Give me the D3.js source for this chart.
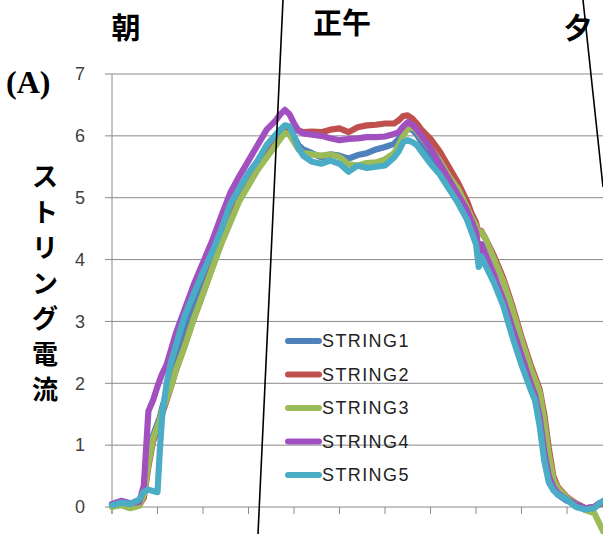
<!DOCTYPE html>
<html>
<head>
<meta charset="utf-8">
<script src="https://cdn.jsdelivr.net/npm/d3@7"></script>
<style>
  body { margin: 0; background: #fff; }
  svg { display: block; }
</style>
</head>
<body>
<div id="chart"></div>
<script>
// time index (10 units per category tick)
const time = [0,2,4,6,7,8,9,10,10.5,11,12,13,14,16,18,20,22,24,26,28,30,32,34,36,37,38,39,40,41,42,44,46,48,50,52,54,56,58,60,62,63,64,65,66,67,68,70,72,74,76,78,79,80,80.6,81.2,82,84,86,88,90,92,93,94,95,96,97,98,100,102,104,106,107,108];

const string1 = [0.04,0.05,0.02,0.05,0.2,0.75,1.15,1.35,1.45,1.6,1.85,2.1,2.35,2.8,3.25,3.65,4.0,4.4,4.78,5.08,5.32,5.55,5.75,5.95,6.05,6.12,6.1,5.98,5.85,5.78,5.72,5.65,5.7,5.68,5.63,5.69,5.72,5.78,5.82,5.87,5.95,6.08,6.12,6.1,6.02,5.9,5.7,5.48,5.25,5.02,4.75,4.58,4.4,4.08,4.18,4.05,3.7,3.3,2.85,2.4,1.95,1.75,1.4,0.85,0.45,0.3,0.2,0.1,0.03,-0.02,0.0,0.04,0.06];
const string2 = [0.02,0.04,0.0,0.03,0.15,0.65,1.05,1.25,1.35,1.5,1.72,1.95,2.2,2.62,3.05,3.45,3.87,4.28,4.65,4.98,5.25,5.48,5.7,5.9,6.0,6.1,6.12,6.1,6.09,6.06,6.07,6.06,6.1,6.12,6.06,6.14,6.17,6.18,6.2,6.2,6.25,6.32,6.33,6.28,6.2,6.1,5.95,5.75,5.5,5.25,4.95,4.75,4.6,4.42,4.46,4.35,4.05,3.7,3.25,2.75,2.3,2.1,1.9,1.5,0.95,0.5,0.32,0.16,0.06,-0.02,0.0,0.04,0.06];
const string3 = [0.0,0.03,-0.02,0.02,0.2,0.7,1.1,1.3,1.4,1.55,1.75,1.95,2.2,2.6,3.05,3.45,3.85,4.25,4.6,4.95,5.2,5.45,5.65,5.85,5.95,6.05,6.02,5.9,5.78,5.72,5.7,5.68,5.7,5.66,5.54,5.52,5.56,5.57,5.62,5.72,5.85,6.0,6.12,6.15,6.08,5.98,5.8,5.6,5.35,5.15,4.85,4.68,4.55,4.4,4.45,4.35,4.0,3.65,3.2,2.7,2.25,2.05,1.85,1.4,0.85,0.45,0.3,0.15,0.05,-0.05,-0.1,-0.25,-0.4];
const string4 = [0.05,0.1,0.06,0.08,0.35,1.55,1.72,1.95,2.05,2.15,2.3,2.55,2.8,3.2,3.6,3.95,4.3,4.7,5.08,5.35,5.6,5.85,6.1,6.25,6.35,6.42,6.35,6.2,6.08,6.04,6.02,6.0,5.96,5.93,5.95,5.96,5.98,5.98,5.99,6.03,6.06,6.15,6.22,6.18,6.1,6.0,5.8,5.55,5.3,5.05,4.8,4.62,4.45,4.15,4.25,4.1,3.75,3.35,2.9,2.45,2.0,1.8,1.45,0.9,0.5,0.32,0.22,0.12,0.04,-0.02,0.0,0.06,0.08];
const string5 = [0.03,0.07,0.05,0.12,0.25,0.28,0.26,0.24,0.9,1.45,2.0,2.35,2.6,3.1,3.45,3.8,4.12,4.48,4.9,5.15,5.4,5.6,5.85,6.02,6.1,6.17,6.15,6.0,5.8,5.68,5.58,5.55,5.6,5.55,5.42,5.52,5.48,5.5,5.52,5.65,5.75,5.9,5.93,5.9,5.85,5.75,5.55,5.38,5.15,4.92,4.65,4.45,4.25,3.88,4.05,3.92,3.62,3.25,2.75,2.3,1.9,1.72,1.3,0.75,0.4,0.27,0.2,0.12,0.0,-0.04,-0.02,0.05,0.1];

const seriesNames = ['STRING1','STRING2','STRING3','STRING4','STRING5'];
const seriesColors = ['#4F81BD','#C0504D','#9BBB59','#A24FBF','#4BACC6'];
const yTicks = [0,1,2,3,4,5,6,7];
const xTicks = [0,10,20,30,40,50,60,70,80,90,100];
const topLabels = ['朝','正午','夕'];
const yTitle = 'ストリング電流';
const panelLabel = '(A)';

const W = 603, H = 534;
const svg = d3.select('#chart').append('svg').attr('width', W).attr('height', H);

const x = d3.scaleLinear().domain([0, 100]).range([112, 567]);
const y = d3.scaleLinear().domain([0, 7]).range([507, 74]);

// gridlines
svg.append('g').selectAll('line').data(yTicks).join('line')
  .attr('x1', 105).attr('x2', W)
  .attr('y1', d => y(d)).attr('y2', d => y(d))
  .attr('stroke', '#8a8a8a').attr('stroke-width', 1);

// vertical axis
svg.append('line').attr('x1', x(0)).attr('x2', x(0)).attr('y1', y(7)).attr('y2', 514)
  .attr('stroke', '#8a8a8a');

// x ticks
svg.append('g').selectAll('line').data(xTicks).join('line')
  .attr('x1', d => x(d)).attr('x2', d => x(d)).attr('y1', y(0)).attr('y2', 514)
  .attr('stroke', '#8a8a8a');

// y tick labels
svg.append('g').selectAll('text').data(yTicks).join('text')
  .attr('x', 85).attr('y', d => y(d)).attr('dy', '0.35em')
  .attr('text-anchor', 'end')
  .style('font-family', '"Liberation Sans", Arial, sans-serif')
  .style('font-size', '18px').attr('fill', '#404040')
  .text(d => d);

// series lines
const series = [string1, string2, string3, string4, string5];
const line = d3.line().x((d, i) => x(time[i])).y(d => y(d));
svg.append('g').selectAll('path').data(series).join('path')
  .attr('d', d => line(d))
  .attr('fill', 'none')
  .attr('stroke', (d, i) => seriesColors[i])
  .attr('stroke-width', 6.2)
  .attr('stroke-linejoin', 'round')
  .attr('stroke-linecap', 'round');

// legend
const legend = svg.append('g').selectAll('g').data(seriesNames).join('g')
  .attr('transform', (d, i) => `translate(0,${341 + i * 33.5})`);
legend.append('line').attr('x1', 288).attr('x2', 319).attr('y1', 0).attr('y2', 0)
  .attr('stroke', (d, i) => seriesColors[i]).attr('stroke-width', 6).attr('stroke-linecap', 'round');
legend.append('text').attr('x', 322).attr('y', 0).attr('dy', '0.35em')
  .style('font-family', '"Liberation Sans", Arial, sans-serif')
  .style('font-size', '18px').style('letter-spacing', '1.4px')
  .attr('fill', '#222').text(d => d);

// decorative time-of-day dividers
svg.append('line').attr('x1', 283).attr('y1', 0).attr('x2', 258).attr('y2', H)
  .attr('stroke', '#000').attr('stroke-width', 1.6);
svg.append('line').attr('x1', 583).attr('y1', 0).attr('x2', 603).attr('y2', 187)
  .attr('stroke', '#000').attr('stroke-width', 1.6);

// top labels
const topPos = [[126, 29], [342, 24], [578, 29]];
svg.append('g').selectAll('text').data(topLabels).join('text')
  .attr('x', (d, i) => topPos[i][0]).attr('y', (d, i) => topPos[i][1]).attr('dy', '0.36em')
  .attr('text-anchor', 'middle')
  .style('font-family', '"Noto Sans CJK JP", sans-serif')
  .style('font-weight', 'bold').style('font-size', '29px')
  .attr('fill', '#000').text(d => d);

// panel label
svg.append('text').attr('x', 6).attr('y', 93)
  .style('font-family', '"Liberation Serif", "Times New Roman", serif')
  .style('font-weight', 'bold').style('font-size', '32px')
  .attr('fill', '#000').text(panelLabel);

// vertical y title
svg.append('g').selectAll('text').data(Array.from(yTitle)).join('text')
  .attr('x', 45).attr('y', (d, i) => 177 + i * 35.5).attr('dy', '0.36em')
  .attr('text-anchor', 'middle')
  .style('font-family', '"Noto Sans CJK JP", sans-serif')
  .style('font-weight', 'bold').style('font-size', '26px')
  .attr('fill', '#000').text(d => d);
</script>
</body>
</html>
